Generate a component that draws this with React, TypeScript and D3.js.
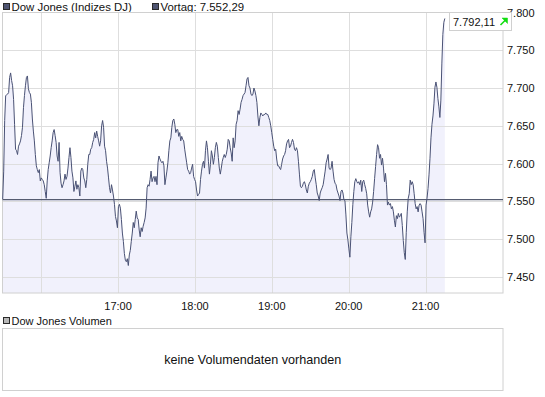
import React from 'react';
import * as d3 from 'd3';

const seriesName = 'Dow Jones (Indizes DJ)';
const prevLabel = 'Vortag: 7.552,29';
const prevClose = 7552.29;
const lastValue = 7792.11;
const volumeName = 'Dow Jones Volumen';
const volumeMsg = 'keine Volumendaten vorhanden';
const yTicks = [7450, 7500, 7550, 7600, 7650, 7700, 7750, 7800];
const gridHours = [16, 17, 18, 19, 20, 21];
const labelHours = [17, 18, 19, 20, 21];
const sessionStart = [15, 30];
const sessionEnd = [22, 0];
const firstTick = [15, 30];
const lastTick = [21, 15];

// 15:30 - 16:40
const seg1 = [7553, 7590, 7657, 7690, 7691, 7692, 7694, 7714, 7720, 7710, 7703, 7685, 7652, 7619, 7617, 7612, 7623, 7626, 7630, 7637, 7648, 7674, 7690, 7703, 7714, 7716, 7699, 7694, 7692, 7681, 7659, 7643, 7630, 7612, 7597, 7592, 7588, 7592, 7577, 7581, 7579, 7577, 7572, 7563, 7554, 7577, 7592, 7601, 7610, 7621, 7630, 7641, 7645, 7637, 7628, 7610, 7603, 7628, 7588, 7574, 7568, 7572, 7577, 7586, 7579, 7583, 7594, 7608, 7621, 7608, 7590, 7581, 7563, 7570, 7577, 7566, 7572, 7568, 7557, 7590, 7594, 7592, 7581, 7577, 7568, 7579, 7599, 7612];
// 16:40 - 17:50
const seg2 = [7612, 7619, 7621, 7628, 7632, 7641, 7634, 7643, 7636, 7630, 7623, 7630, 7650, 7657, 7648, 7623, 7617, 7603, 7594, 7581, 7568, 7561, 7572, 7565, 7557, 7546, 7530, 7524, 7515, 7543, 7546, 7541, 7526, 7508, 7497, 7481, 7472, 7470, 7474, 7465, 7479, 7485, 7497, 7508, 7522, 7515, 7526, 7537, 7528, 7526, 7512, 7503, 7515, 7510, 7517, 7522, 7528, 7541, 7568, 7572, 7570, 7579, 7590, 7576, 7581, 7583, 7576, 7583, 7572, 7601, 7610, 7606, 7603, 7601, 7603, 7597, 7572, 7581, 7590, 7601, 7617, 7630, 7634, 7648, 7657, 7659, 7652, 7641, 7645];
// 17:50 - 19:00
const seg3 = [7645, 7636, 7641, 7630, 7636, 7632, 7630, 7619, 7610, 7601, 7592, 7590, 7586, 7588, 7594, 7599, 7583, 7579, 7576, 7565, 7557, 7559, 7561, 7579, 7590, 7599, 7603, 7594, 7617, 7630, 7621, 7603, 7586, 7599, 7617, 7610, 7599, 7608, 7621, 7628, 7623, 7608, 7594, 7586, 7594, 7603, 7608, 7612, 7608, 7612, 7619, 7632, 7630, 7621, 7614, 7603, 7634, 7621, 7630, 7652, 7657, 7670, 7665, 7672, 7681, 7685, 7690, 7692, 7694, 7703, 7712, 7714, 7703, 7700, 7692, 7690, 7692, 7700, 7696, 7690, 7681, 7663, 7650, 7661, 7667, 7665, 7663, 7665, 7665];
// 19:00 - 20:05
const seg4 = [7667, 7665, 7665, 7661, 7657, 7650, 7641, 7632, 7623, 7617, 7619, 7606, 7597, 7597, 7594, 7592, 7599, 7606, 7610, 7612, 7617, 7626, 7630, 7632, 7621, 7623, 7628, 7632, 7628, 7619, 7617, 7621, 7617, 7603, 7586, 7570, 7568, 7570, 7574, 7576, 7572, 7565, 7561, 7570, 7574, 7576, 7579, 7583, 7590, 7592, 7581, 7572, 7561, 7557, 7551, 7561, 7565, 7568, 7572, 7581, 7590, 7601, 7606, 7612, 7594, 7592, 7594, 7603, 7590, 7579, 7574, 7572, 7565, 7561, 7557, 7551, 7563, 7565, 7561, 7552, 7551, 7532, 7508, 7499, 7487, 7476, 7503, 7522, 7546];
// 20:05 - 21:15
const seg5 = [7563, 7576, 7580, 7576, 7574, 7576, 7572, 7578, 7563, 7576, 7578, 7572, 7567, 7560, 7545, 7536, 7529, 7536, 7540, 7549, 7563, 7580, 7596, 7612, 7625, 7621, 7607, 7612, 7598, 7607, 7594, 7576, 7587, 7572, 7545, 7549, 7545, 7547, 7540, 7543, 7536, 7525, 7516, 7531, 7527, 7534, 7529, 7531, 7534, 7518, 7498, 7482, 7473, 7509, 7536, 7554, 7560, 7578, 7572, 7576, 7572, 7560, 7547, 7540, 7543, 7536, 7545, 7547, 7545, 7536, 7527, 7509, 7495, 7545, 7554, 7567, 7585, 7607, 7634, 7652, 7663, 7679, 7701, 7708, 7701, 7686, 7675, 7661, 7684, 7733, 7771, 7787, lastValue];

const closes = [...seg1, ...seg2, ...seg3, ...seg4, ...seg5];

const de = d3.formatLocale({ decimal: ',', thousands: '.', grouping: [3], currency: ['', ' €'] });
const fmtInt = de.format(',d');
const fmt2 = de.format(',.2f');

const day = (h: number, m: number) => new Date(2010, 0, 4, h, m);

export default function App() {
  const L = 2.5, R = 503, T = 12.5, B = 293;
  const x = d3.scaleTime().domain([day(sessionStart[0], sessionStart[1]), day(sessionEnd[0], sessionEnd[1])]).range([2.7, 502.5]);
  const y = d3.scaleLinear().domain([7428.6, 7800]).range([B, T]);

  const t0 = day(firstTick[0], firstTick[1]).getTime();
  const t1 = day(lastTick[0], lastTick[1]).getTime();
  const n = closes.length;
  const data = closes.map((v, i) => ({ t: new Date(t0 + (i * (t1 - t0)) / (n - 1)), v }));

  const line = d3.line<{ t: Date; v: number }>().x(d => x(d.t)).y(d => y(d.v))(data) || '';
  const area = d3.area<{ t: Date; v: number }>().x(d => x(d.t)).y0(B).y1(d => y(d.v))(data) || '';

  const font = '"Liberation Sans", Arial, sans-serif';
  const gridColor = '#dedede';
  const frameColor = '#d0d0d0';

  return (
    <svg width={545} height={397} style={{ position: 'absolute', left: 0, top: 0 }} fontFamily={font} fontSize={11}>
      <rect x={0} y={0} width={545} height={397} fill="#fff" />
      {/* legend */}
      <rect x={3.5} y={3.5} width={6} height={6} fill="#4f5572" stroke="#2a2a2a" strokeWidth={1} />
      <text x={11.5} y={11} fill="#111" fontSize={11.4}>{seriesName}</text>
      <rect x={152.5} y={3.5} width={6} height={6} fill="#4f5572" stroke="#2a2a2a" strokeWidth={1} />
      <text x={160.5} y={11} fill="#111" fontSize={11.4}>{prevLabel}</text>

      {/* plot area */}
      <path d={area} fill="#f1f1fc" />
      {gridHours.map(h => (
        <line key={'v' + h} x1={Math.round(x(day(h, 0))) + 0.5} x2={Math.round(x(day(h, 0))) + 0.5} y1={T} y2={B} stroke={gridColor} />
      ))}
      {yTicks.filter(v => v < 7800).map(v => (
        <line key={'h' + v} x1={L} x2={R} y1={Math.round(y(v)) + 0.5} y2={Math.round(y(v)) + 0.5} stroke={gridColor} />
      ))}
      <rect x={L} y={T} width={R - L} height={B - T} fill="none" stroke={frameColor} />
      <line x1={L} x2={R} y1={y(prevClose)} y2={y(prevClose)} stroke="#555b70" strokeWidth={1.3} />
      <path d={line} fill="none" stroke="#4a5275" strokeWidth={1} />

      {/* y labels */}
      {yTicks.map(v => (
        <text key={'yl' + v} x={507} y={y(v) + 4} fill="#111">{fmtInt(v)}</text>
      ))}
      {/* x labels */}
      {labelHours.map(h => (
        <text key={'xl' + h} x={x(day(h, 0))} y={310} textAnchor="middle" fill="#111">{`${h}:00`}</text>
      ))}

      {/* last price box */}
      <rect x={449.5} y={12.5} width={62} height={18} fill="#fff" stroke={frameColor} />
      <text x={453} y={25.5} fill="#111">{fmt2(lastValue)}</text>
      <g stroke="#11dd11" fill="#11dd11" strokeWidth={1.6}>
        <line x1={500.5} y1={25} x2={505.5} y2={20} />
        <path d="M502,18 L507.5,18 L507.5,23.5 Z" strokeWidth={0.5} />
      </g>

      {/* volume panel */}
      <rect x={3.5} y={317.5} width={6} height={6} fill="#b8b8b8" stroke="#2a2a2a" strokeWidth={1} />
      <text x={11.5} y={325} fill="#111">{volumeName}</text>
      <rect x={L} y={328.5} width={R - L} height={62} fill="#fff" stroke={frameColor} />
      <text x={(L + R) / 2} y={363.5} textAnchor="middle" fill="#111" fontSize={12.6}>{volumeMsg}</text>
    </svg>
  );
}
